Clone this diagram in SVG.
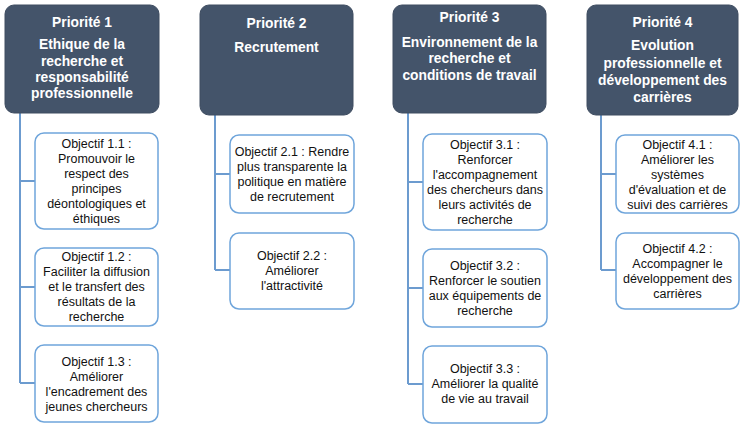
<svg xmlns="http://www.w3.org/2000/svg" width="750" height="431" viewBox="0 0 750 431">
<style>
.pri{fill:#44546A;stroke:#3E4C60;stroke-width:1}
.obj{fill:#FFFFFF;stroke:#6FA5DB;stroke-width:1.5}
.pt{font-family:"Liberation Sans",Arial,sans-serif;font-weight:bold;font-size:13.8px;fill:#FFFFFF;text-anchor:middle}
.ot{font-family:"Liberation Sans",Arial,sans-serif;font-size:12.5px;fill:#111111;text-anchor:middle}
.con{fill:none;stroke:#6C9BCF;stroke-width:2}
</style>
<rect width="750" height="431" fill="#FFFFFF"/>
<g id="connectors">
<path class="con" d="M20 113 V383 M20 181 H35 M20 287 H35 M20 383 H35"/>
<path class="con" d="M215 115 V270 M215 174 H230 M215 270 H230"/>
<path class="con" d="M408 113 V384 M408 182 H423 M408 288 H423 M408 384 H423"/>
<path class="con" d="M601 115 V270 M601 174 H616 M601 270 H616"/>
</g>
<g id="p1">
<rect class="pri" x="5" y="5" width="154" height="108" rx="9"/>
<text class="pt" x="82" y="27">Priorité 1</text>
<text class="pt" x="82" y="49">Ethique de la</text>
<text class="pt" x="82" y="66">recherche et</text>
<text class="pt" x="82" y="82">responsabilité</text>
<text class="pt" x="82" y="98">professionnelle</text>
</g>
<g id="p2">
<rect class="pri" x="200" y="5" width="153" height="110" rx="9"/>
<text class="pt" x="276.5" y="28">Priorité 2</text>
<text class="pt" x="276.5" y="52">Recrutement</text>
</g>
<g id="p3">
<rect class="pri" x="393" y="5" width="153" height="108" rx="9"/>
<text class="pt" x="469.5" y="22">Priorité 3</text>
<text class="pt" x="469.5" y="47">Environnement de la</text>
<text class="pt" x="469.5" y="63">recherche et</text>
<text class="pt" x="469.5" y="80">conditions de travail</text>
</g>
<g id="p4">
<rect class="pri" x="587" y="5" width="151" height="110" rx="9"/>
<text class="pt" x="662.5" y="27">Priorité 4</text>
<text class="pt" x="662.5" y="50">Evolution</text>
<text class="pt" x="662.5" y="68">professionnelle et</text>
<text class="pt" x="662.5" y="85">développement des</text>
<text class="pt" x="662.5" y="102">carrières</text>
</g>
<g id="o11">
<rect class="obj" x="35" y="133" width="123" height="96" rx="9"/>
<text class="ot" x="96.5" y="148">Objectif 1.1 :</text>
<text class="ot" x="96.5" y="163">Promouvoir le</text>
<text class="ot" x="96.5" y="178">respect des</text>
<text class="ot" x="96.5" y="193">principes</text>
<text class="ot" x="96.5" y="208">déontologiques et</text>
<text class="ot" x="96.5" y="223">éthiques</text>
</g>
<g id="o12">
<rect class="obj" x="35" y="248" width="123" height="78" rx="9"/>
<text class="ot" x="96.5" y="261">Objectif 1.2 :</text>
<text class="ot" x="96.5" y="276">Faciliter la diffusion</text>
<text class="ot" x="96.5" y="291">et le transfert des</text>
<text class="ot" x="96.5" y="306">résultats de la</text>
<text class="ot" x="96.5" y="321">recherche</text>
</g>
<g id="o13">
<rect class="obj" x="35" y="345" width="123" height="77" rx="9"/>
<text class="ot" x="96.5" y="366">Objectif 1.3 :</text>
<text class="ot" x="96.5" y="381">Améliorer</text>
<text class="ot" x="96.5" y="396">l'encadrement des</text>
<text class="ot" x="96.5" y="411">jeunes chercheurs</text>
</g>
<g id="o21">
<rect class="obj" x="230" y="135" width="124" height="78" rx="9"/>
<text class="ot" x="292" y="156">Objectif 2.1 : Rendre</text>
<text class="ot" x="292" y="171">plus transparente la</text>
<text class="ot" x="292" y="186">politique en matière</text>
<text class="ot" x="292" y="201">de recrutement</text>
</g>
<g id="o22">
<rect class="obj" x="230" y="233" width="124" height="76" rx="9"/>
<text class="ot" x="292" y="260">Objectif 2.2 :</text>
<text class="ot" x="292" y="275">Améliorer</text>
<text class="ot" x="292" y="290">l'attractivité</text>
</g>
<g id="o31">
<rect class="obj" x="423" y="134" width="124" height="96" rx="9"/>
<text class="ot" x="485" y="149">Objectif 3.1 :</text>
<text class="ot" x="485" y="164">Renforcer</text>
<text class="ot" x="485" y="179">l'accompagnement</text>
<text class="ot" x="485" y="194">des chercheurs dans</text>
<text class="ot" x="485" y="209">leurs activités de</text>
<text class="ot" x="485" y="224">recherche</text>
</g>
<g id="o32">
<rect class="obj" x="423" y="249" width="124" height="78" rx="9"/>
<text class="ot" x="485" y="270">Objectif 3.2 :</text>
<text class="ot" x="485" y="285">Renforcer le soutien</text>
<text class="ot" x="485" y="300">aux équipements de</text>
<text class="ot" x="485" y="315">recherche</text>
</g>
<g id="o33">
<rect class="obj" x="423" y="346" width="124" height="77" rx="9"/>
<text class="ot" x="485" y="373">Objectif 3.3 :</text>
<text class="ot" x="485" y="388">Améliorer la qualité</text>
<text class="ot" x="485" y="403">de vie au travail</text>
</g>
<g id="o41">
<rect class="obj" x="616" y="135" width="123" height="78" rx="9"/>
<text class="ot" x="677.5" y="149">Objectif 4.1 :</text>
<text class="ot" x="677.5" y="164">Améliorer les</text>
<text class="ot" x="677.5" y="179">systèmes</text>
<text class="ot" x="677.5" y="194">d'évaluation et de</text>
<text class="ot" x="677.5" y="209">suivi des carrières</text>
</g>
<g id="o42">
<rect class="obj" x="616" y="233" width="123" height="76" rx="9"/>
<text class="ot" x="677.5" y="253">Objectif 4.2 :</text>
<text class="ot" x="677.5" y="268">Accompagner le</text>
<text class="ot" x="677.5" y="283">développement des</text>
<text class="ot" x="677.5" y="298">carrières</text>
</g>
</svg>
